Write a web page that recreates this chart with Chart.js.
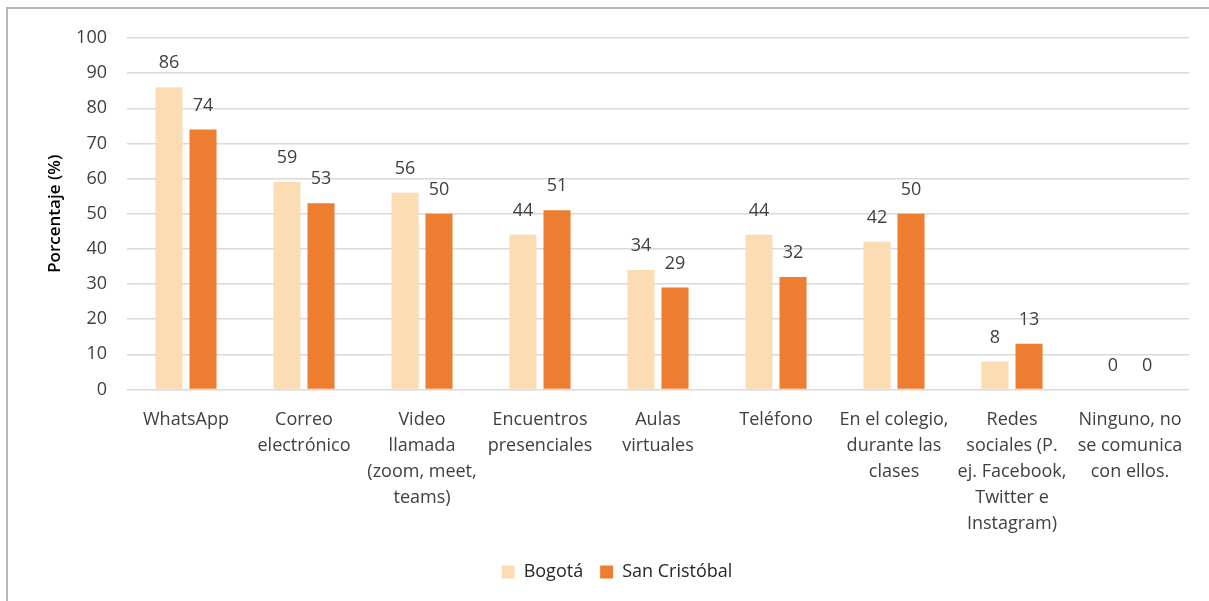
<!DOCTYPE html>
<html lang="es">
<head>
    <meta charset="UTF-8">
    <title>Porcentaje por medio de comunicación</title>
    <script src="https://cdn.jsdelivr.net/npm/chart.js"></script>
    <style>
        html, body {
            margin: 0;
            padding: 0;
            overflow: hidden;
            background: #fff;
        }
        .frame {
            position: absolute;
            left: 6px;
            top: 7px;
            width: 1300px;
            height: 700px;
            border-left: 2px solid #b8b8b8;
            border-top: 2px solid #b8b8b8;
        }
        .chart-box {
            position: absolute;
            left: 0;
            top: 0;
            width: 1209px;
            height: 601px;
        }
    </style>
</head>
<body>
    <div class="frame"></div>
    <div class="chart-box">
        <canvas id="mediosChart"></canvas>
    </div>

    <script>
        const categories = [
            ["WhatsApp"],
            ["Correo", "electrónico"],
            ["Video", "llamada", "(zoom, meet,", "teams)"],
            ["Encuentros", "presenciales"],
            ["Aulas", "virtuales"],
            ["Teléfono"],
            ["En el colegio,", "durante las", "clases"],
            ["Redes", "sociales (P.", "ej. Facebook,", "Twitter e", "Instagram)"],
            ["Ninguno, no", "se comunica", "con ellos."]
        ];
        const bogota = [86, 59, 56, 44, 34, 44, 42, 8, 0];
        const sanCristobal = [74, 53, 50, 51, 29, 32, 50, 13, 0];
        const yTicks = [0, 10, 20, 30, 40, 50, 60, 70, 80, 90, 100];

        const textColor = "#404040";
        const fontFamily = "'Open Sans', 'Noto Sans', sans-serif";

        // numbers above each bar
        const barLabels = {
            id: "barLabels",
            afterDatasetsDraw(chart) {
                const ctx = chart.ctx;
                ctx.save();
                ctx.font = "18px " + fontFamily;
                ctx.fillStyle = textColor;
                ctx.textAlign = "center";
                ctx.textBaseline = "middle";
                chart.data.datasets.forEach((ds, i) => {
                    chart.getDatasetMeta(i).data.forEach((bar, j) => {
                        ctx.fillText(ds.data[j], bar.x, bar.y - 24);
                    });
                });
                ctx.restore();
            }
        };

        const ctx = document.getElementById("mediosChart").getContext("2d");
        const mediosChart = new Chart(ctx, {
            type: "bar",
            data: {
                labels: categories,
                datasets: [
                    { label: "Bogotá", data: bogota, backgroundColor: "#fcdcb2" },
                    { label: "San Cristóbal", data: sanCristobal, backgroundColor: "#ed7d31" }
                ]
            },
            options: {
                responsive: true,
                maintainAspectRatio: false,
                animation: false,
                categoryPercentage: 0.577,
                barPercentage: 0.794,
                layout: { padding: { left: 45, right: 20, top: 38, bottom: 10 } },
                plugins: {
                    tooltip: { enabled: false },
                    legend: {
                        position: "bottom",
                        labels: {
                            color: "#262626",
                            font: { family: fontFamily, size: 18 },
                            boxWidth: 13,
                            boxHeight: 13,
                            padding: 17
                        }
                    }
                },
                scales: {
                    x: {
                        grid: { display: false },
                        border: { display: false },
                        ticks: {
                            color: textColor,
                            font: { family: fontFamily, size: 18, lineHeight: 1.45 },
                            maxRotation: 0,
                            autoSkip: false,
                            padding: 9
                        }
                    },
                    y: {
                        min: 0,
                        max: 100,
                        afterBuildTicks(axis) {
                            axis.ticks = yTicks.map(v => ({ value: v }));
                        },
                        afterFit(axis) {
                            axis.width = 82;
                        },
                        grid: { color: "#d9d9d9", lineWidth: 1.5, drawTicks: false },
                        border: { display: false },
                        ticks: {
                            color: textColor,
                            font: { family: fontFamily, size: 18 },
                            padding: 20
                        },
                        title: {
                            display: true,
                            text: "Porcentaje (%)",
                            color: "#000",
                            font: { family: fontFamily, size: 17, weight: "600" },
                            padding: { top: 0, bottom: 0 }
                        }
                    }
                }
            },
            plugins: [barLabels]
        });
    </script>
</body>
</html>
